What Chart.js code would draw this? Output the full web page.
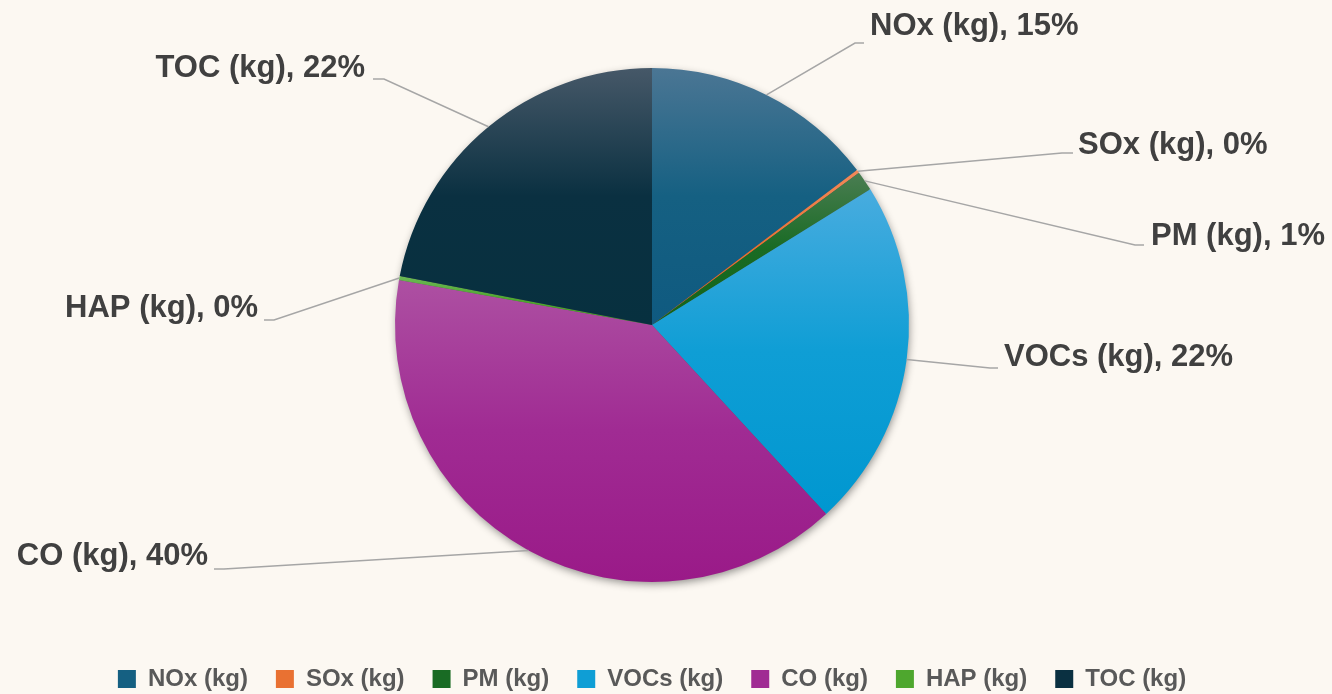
<!DOCTYPE html>
<html>
<head>
<meta charset="utf-8">
<title>Emissions share</title>
<script src="https://cdn.jsdelivr.net/npm/chart.js@4/dist/chart.umd.min.js"></script>
<style>
    html, body { margin: 0; padding: 0; background: #fcf8f2; }
    #chart { display: block; }
</style>
</head>
<body>
<canvas id="chart" width="1332" height="694"></canvas>
<script>
// data (share of total, %)
var categories = ['NOx (kg)', 'SOx (kg)', 'PM (kg)', 'VOCs (kg)', 'CO (kg)', 'HAP (kg)', 'TOC (kg)'];
var shares = [14.7, 0.2, 1.25, 22.0, 39.65, 0.25, 21.95];

// styling (kept apart from the data)
var TOP_COLORS = ['#4b7694', '#f2895a', '#4a7d52', '#48acdf', '#ad50a2', '#6cb855', '#465868'];
var BASE_COLORS = ['#156082', '#e97132', '#196b24', '#0f9ed5', '#a02b93', '#4ea72e', '#0a3041'];
var DARK_COLORS = ['#0f5a80', '#e0601f', '#126418', '#0097d0', '#9a1a88', '#45a020', '#07303f'];
var LABEL_FONT = 'bold 31px "Liberation Sans", Arial, sans-serif';

// data-label placement: text anchor, leader elbow and leader end
var labelLayout = [
    {tx: 870, ty: 26, align: 'left', elbow: [855, 43], end: [864, 43]},
    {tx: 1078, ty: 145, align: 'left', elbow: [1062, 153], end: [1073, 153]},
    {tx: 1151, ty: 236, align: 'left', elbow: [1135, 245], end: [1144, 245]},
    {tx: 1004, ty: 357, align: 'left', elbow: [990, 368], end: [998, 368]},
    {tx: 208, ty: 556, align: 'right', elbow: [224, 569], end: [214, 569]},
    {tx: 258, ty: 308, align: 'right', elbow: [274, 320], end: [264, 320]},
    {tx: 365, ty: 68, align: 'right', elbow: [384, 79], end: [373, 79]}
];

function sliceGradient(context) {
    var chart = context.chart,
        area = chart.chartArea,
        i = context.dataIndex,
        meta, r, cx, cy, total, cum, a0, a1, ys, ymin, ymax, g, k;

    if (!area || context.type !== 'data') {
        return BASE_COLORS[i];
    }
    meta = chart.getDatasetMeta(0);
    r = meta.controller.outerRadius || 257;
    cx = (area.left + area.right) / 2;
    cy = (area.top + area.bottom) / 2;
    total = 0;
    cum = 0;
    for (k = 0; k < shares.length; k++) {
        total += shares[k];
        if (k < i) {
            cum += shares[k];
        }
    }
    a0 = -Math.PI / 2 + 2 * Math.PI * cum / total;
    a1 = a0 + 2 * Math.PI * shares[i] / total;
    ys = [cy, cy + r * Math.sin(a0), cy + r * Math.sin(a1)];
    if (a0 <= Math.PI / 2 && a1 >= Math.PI / 2) {
        ys.push(cy + r);
    }
    if (a0 <= -Math.PI / 2 + 1e-6 || a1 >= 1.5 * Math.PI - 1e-6) {
        ys.push(cy - r);
    }
    ymin = Math.min.apply(null, ys);
    ymax = Math.max.apply(null, ys);
    if (ymax - ymin < 2) {
        return BASE_COLORS[i];
    }
    g = chart.ctx.createLinearGradient(0, ymin, 0, ymax);
    g.addColorStop(0, TOP_COLORS[i]);
    g.addColorStop(0.5, BASE_COLORS[i]);
    g.addColorStop(1, DARK_COLORS[i]);
    return g;
}

var pieShadow = {
    id: 'pieShadow',
    beforeDatasetsDraw: function (chart) {
        var arc = chart.getDatasetMeta(0).data[0],
            ctx = chart.ctx;
        if (!arc) {
            return;
        }
        ctx.save();
        ctx.shadowColor = 'rgba(0, 0, 0, 0.45)';
        ctx.shadowBlur = 9;
        ctx.shadowOffsetX = 1;
        ctx.shadowOffsetY = 3;
        ctx.fillStyle = '#555';
        ctx.beginPath();
        ctx.arc(arc.x, arc.y, arc.outerRadius - 1, 0, Math.PI * 2);
        ctx.fill();
        ctx.restore();
    }
};

var dataLabels = {
    id: 'dataLabels',
    afterDatasetsDraw: function (chart) {
        var ctx = chart.ctx,
            meta = chart.getDatasetMeta(0),
            total = shares.reduce(function (s, v) { return s + v; }, 0);

        meta.data.forEach(function (arc, i) {
            var lay = labelLayout[i],
                mid = (arc.startAngle + arc.endAngle) / 2,
                sx = arc.x + Math.cos(mid) * arc.outerRadius,
                sy = arc.y + Math.sin(mid) * arc.outerRadius,
                pct = Math.round(shares[i] / total * 100);

            ctx.save();
            ctx.strokeStyle = '#a6a6a6';
            ctx.lineWidth = 1.5;
            ctx.beginPath();
            ctx.moveTo(sx, sy);
            ctx.lineTo(lay.elbow[0], lay.elbow[1]);
            ctx.lineTo(lay.end[0], lay.end[1]);
            ctx.stroke();

            ctx.fillStyle = '#404040';
            ctx.font = LABEL_FONT;
            ctx.textAlign = lay.align;
            ctx.textBaseline = 'middle';
            ctx.fillText(categories[i] + ', ' + pct + '%', lay.tx, lay.ty);
            ctx.restore();
        });
    }
};

new Chart(document.getElementById('chart'), {
    type: 'pie',
    data: {
        labels: categories,
        datasets: [{
            data: shares,
            backgroundColor: sliceGradient,
            borderWidth: 0,
            radius: 257
        }]
    },
    options: {
        responsive: false,
        animation: false,
        events: [],
        layout: {
            padding: {top: 11, left: 0, right: 28, bottom: -7}
        },
        plugins: {
            tooltip: {enabled: false},
            legend: {
                position: 'bottom',
                labels: {
                    boxWidth: 18,
                    boxHeight: 18,
                    padding: 28,
                    color: '#595959',
                    font: {family: '"Liberation Sans", Arial, sans-serif', size: 24, weight: 'bold'},
                    generateLabels: function () {
                        return categories.map(function (name, i) {
                            return {
                                text: name,
                                fillStyle: BASE_COLORS[i],
                                strokeStyle: BASE_COLORS[i],
                                lineWidth: 0,
                                fontColor: '#595959',
                                hidden: false,
                                index: i
                            };
                        });
                    }
                }
            }
        }
    },
    plugins: [pieShadow, dataLabels]
});
</script>
</body>
</html>
